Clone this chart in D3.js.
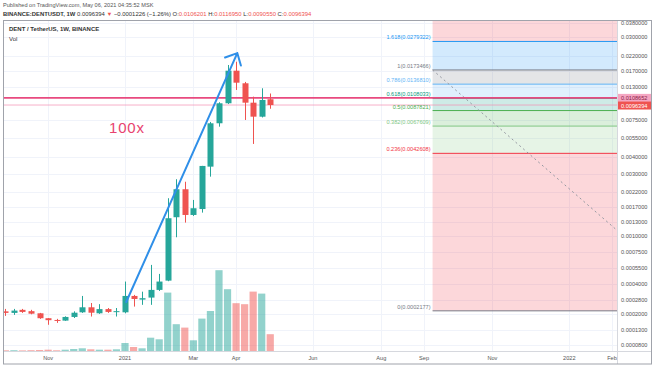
<!DOCTYPE html>
<html>
<head>
<meta charset="utf-8">
<script src="https://cdn.jsdelivr.net/npm/d3@7"></script>
<style>
  body { margin: 0; background: #fff; }
  svg { display: block; font-family: "Liberation Sans", Arial, sans-serif; }
</style>
</head>
<body>
<section id="chart"></section>
<script>
// weekly bars, DENT/USDT
var dates = ["2020-09-28","2020-10-05","2020-10-12","2020-10-19","2020-10-26","2020-11-02","2020-11-09","2020-11-16",
  "2020-11-23","2020-11-30","2020-12-07","2020-12-14","2020-12-21","2020-12-28","2021-01-04","2021-01-11",
  "2021-01-18","2021-01-25","2021-02-01","2021-02-08","2021-02-15","2021-02-22","2021-03-01","2021-03-08",
  "2021-03-15","2021-03-22","2021-03-29","2021-04-05","2021-04-12","2021-04-19","2021-04-26","2021-05-03"];
var open = [0.000215,0.000207,0.000223,0.000216,0.000205,0.000181,0.000173,0.000170,0.000187,0.000210,0.000237,0.000205,
  0.000227,0.000212,0.000210,0.000307,0.000283,0.000296,0.000350,0.000425,0.001407,0.002300,0.001465,0.001627,
  0.003395,0.00709,0.00993,0.01714,0.01388,0.010025,0.00792,0.0106201];
var high = [0.000228,0.000228,0.000228,0.000223,0.000207,0.000182,0.000178,0.000190,0.000215,0.000307,0.000262,0.000255,
  0.000233,0.000233,0.000417,0.000314,0.000337,0.000582,0.000487,0.001967,0.002735,0.00262,0.001909,0.00344,
  0.00725,0.0101,0.01885,0.0199,0.0142,0.01109,0.012765,0.011695];
var low = [0.000192,0.000197,0.000207,0.000200,0.000178,0.000152,0.000160,0.000169,0.000182,0.000207,0.000189,0.000202,
  0.000207,0.000189,0.000205,0.000241,0.000251,0.000251,0.000342,0.00042,0.00098,0.001278,0.00144,0.001527,
  0.002859,0.006693,0.0098,0.01241,0.007495,0.004998,0.00782,0.009055];
var close = [0.000207,0.000219,0.000212,0.000203,0.000181,0.000172,0.000169,0.000187,0.000208,0.000237,0.000208,0.000227,
  0.000212,0.000216,0.000307,0.000287,0.000292,0.000350,0.000417,0.001382,0.0023,0.001465,0.00165,0.003436,
  0.007088,0.009926,0.01714,0.01402,0.010025,0.007924,0.01049,0.0096394];
// volume, billions
var volume = [0.35,0.4,0.3,0.4,0.5,0.65,0.35,0.65,1.0,1.35,0.85,0.65,0.65,0.85,4.0,2.0,
  1.35,6.65,5.85,29.2,13.4,11.7,5.35,16.2,20,40.4,30.9,23.9,23.4,29.7,28.7,8.4];

var priceTicks = [0.038,0.03,0.022,0.017,0.013,0.0075,0.0055,0.004,0.003,0.0022,0.0017,0.0013,0.001,
  0.00075,0.00055,0.0004,0.00028,0.0002,0.00013,0.00008];
var timeTicks = ["2020-11-02","2021-01-04","2021-03-01","2021-04-05","2021-06-07","2021-08-02","2021-09-06",
  "2021-11-01","2022-01-03","2022-02-07"];
var timeLabels = ["Nov","2021","Mar","Apr","Jun","Aug","Sep","Nov","2022","Feb"];

// fib retracement drawn on the right
var fibRatios = [0, 0.236, 0.382, 0.5, 0.618, 0.786, 1, 1.618];
var fibPrices = [0.0002177, 0.0042608, 0.0067609, 0.0087821, 0.0108033, 0.0136810, 0.0173466, 0.0279322];
var fibColors = ["#787b86","#f23645","#81c784","#4caf50","#089981","#64b5f6","#787b86","#2196f3"];
var fibDates = ["2021-09-13", "2022-04-28"];

var markLine = 0.0108652;
var lastPrice = 0.0096394;
var arrowDates = ["2021-01-05", "2021-04-06"];
var arrowPrices = [0.000268, 0.0230];

var W = 654, H = 366;
var L = 4, R = 617, T = 21, B = 351;
var up = "#26a69a", down = "#ef5350";
var parse = d3.utcParse("%Y-%m-%d");

var x = d3.scaleUtc()
  .domain([parse("2021-01-04"), parse("2022-02-07")])
  .range([125, 612]);
var y = d3.scaleSymlog()
  .constant(0.0001)
  .domain([0.038, 0.00008])
  .range([23, 345]);
var yv = d3.scaleLinear()
  .domain([0, 50])
  .range([B, B - 100]);

var bars = dates.map(function(d, i) {
  return { date: parse(d), o: open[i], h: high[i], l: low[i], c: close[i], v: volume[i] };
});

var svg = d3.select("#chart").append("svg")
  .attr("width", W)
  .attr("height", H);

svg.append("defs").append("clipPath").attr("id", "plot")
  .append("rect").attr("x", L).attr("y", T).attr("width", R - L).attr("height", B - T);

// header
svg.append("text")
  .attr("x", 3).attr("y", 7)
  .attr("font-size", 5.6).attr("fill", "#555")
  .text("Published on TradingView.com, May 06, 2021 04:35:52 MSK");
var hdr = svg.append("text")
  .attr("x", 3).attr("y", 16)
  .attr("font-size", 5.9).attr("fill", "#333");
hdr.append("tspan").attr("font-weight", "bold").text("BINANCE:DENTUSDT, 1W ");
hdr.append("tspan").text("0.0096394 ");
hdr.append("tspan").attr("fill", down).text("▼ ");
hdr.append("tspan").text("−0.0001226 (−1.26%) ");
[["O:", "0.0106201"], ["H:", "0.0116950"], ["L:", "0.0090550"], ["C:", "0.0096394"]].forEach(function(p) {
  hdr.append("tspan").text(p[0]);
  hdr.append("tspan").attr("fill", down).text(p[1] + " ");
});

// grid
var grid = svg.append("g");
grid.selectAll(".gy").data(priceTicks).enter().append("line")
  .attr("x1", L).attr("x2", R)
  .attr("y1", function(d) { return Math.round(y(d)) + 0.5; })
  .attr("y2", function(d) { return Math.round(y(d)) + 0.5; })
  .attr("stroke", "#f0f3fa");
grid.selectAll(".gx").data(timeTicks).enter().append("line")
  .attr("x1", function(d) { return Math.round(x(parse(d))) + 0.5; })
  .attr("x2", function(d) { return Math.round(x(parse(d))) + 0.5; })
  .attr("y1", T).attr("y2", B)
  .attr("stroke", "#f0f3fa");

var plot = svg.append("g").attr("clip-path", "url(#plot)");

// fib zones
var fx0 = x(parse(fibDates[0]));
var zones = fibPrices.map(function(p, i) {
  return { top: i < fibPrices.length - 1 ? fibPrices[i + 1] : null, bottom: p, color: i < fibPrices.length - 1 ? fibColors[i + 1] : "#f23645" };
});
zones.forEach(function(z) {
  var yt = z.top == null ? T : y(z.top);
  plot.append("rect")
    .attr("x", fx0).attr("width", R - fx0)
    .attr("y", yt).attr("height", y(z.bottom) - yt)
    .attr("fill", z.color).attr("fill-opacity", 0.2);
});
plot.selectAll(".fibline").data(fibPrices).enter().append("line")
  .attr("x1", fx0).attr("x2", R)
  .attr("y1", function(d) { return y(d); })
  .attr("y2", function(d) { return y(d); })
  .attr("stroke", function(d, i) { return fibColors[i]; })
  .attr("stroke-width", 1);
plot.append("line")
  .attr("x1", fx0).attr("y1", y(fibPrices[6]))
  .attr("x2", x(parse(fibDates[1]))).attr("y2", y(fibPrices[0]))
  .attr("stroke", "#9598a1").attr("stroke-width", 1)
  .attr("stroke-dasharray", "2,3");
svg.selectAll(".fiblabel").data(fibPrices).enter().append("text")
  .attr("x", fx0 - 2)
  .attr("y", function(d) { return y(d) - 2; })
  .attr("text-anchor", "end")
  .attr("font-size", 5.6)
  .attr("fill", function(d, i) { return fibColors[i]; })
  .text(function(d, i) { return fibRatios[i] + "(" + d.toFixed(7) + ")"; });

// horizontal lines
plot.append("line")
  .attr("x1", 0).attr("x2", R)
  .attr("y1", y(markLine)).attr("y2", y(markLine))
  .attr("stroke", "#e84a7f").attr("stroke-width", 1.6);
plot.append("line")
  .attr("x1", L).attr("x2", R)
  .attr("y1", y(lastPrice)).attr("y2", y(lastPrice))
  .attr("stroke", "#f48fb1").attr("stroke-width", 1).attr("stroke-opacity", 0.7);

// volume
plot.selectAll(".vol").data(bars).enter().append("rect")
  .attr("x", function(d) { return x(d.date) - 3.6; })
  .attr("width", 7.2)
  .attr("y", function(d) { return yv(d.v); })
  .attr("height", function(d) { return B - yv(d.v); })
  .attr("fill", function(d) { return d.c >= d.o ? up : down; })
  .attr("fill-opacity", 0.5);

// candles
var candle = plot.selectAll(".candle").data(bars).enter().append("g");
candle.append("line")
  .attr("x1", function(d) { return Math.round(x(d.date)) + 0.5; })
  .attr("x2", function(d) { return Math.round(x(d.date)) + 0.5; })
  .attr("y1", function(d) { return y(d.h); })
  .attr("y2", function(d) { return y(d.l); })
  .attr("stroke", function(d) { return d.c >= d.o ? up : down; });
candle.append("rect")
  .attr("x", function(d) { return Math.round(x(d.date)) - 2.5; })
  .attr("width", 6)
  .attr("y", function(d) { return y(Math.max(d.o, d.c)); })
  .attr("height", function(d) { return Math.max(1, Math.abs(y(d.o) - y(d.c))); })
  .attr("fill", function(d) { return d.c >= d.o ? up : down; });

// arrow
var a0 = [x(parse(arrowDates[0])), y(arrowPrices[0])];
var a1 = [x(parse(arrowDates[1])), y(arrowPrices[1])];
var ang = Math.atan2(a0[1] - a1[1], a0[0] - a1[0]);
var wing = function(s) {
  return [a1[0] + 13 * Math.cos(ang + s), a1[1] + 13 * Math.sin(ang + s)];
};
plot.append("path")
  .attr("d", d3.line()([a0, a1]) + "M" + wing(0.8) + "L" + a1 + "L" + wing(-0.7))
  .attr("fill", "none")
  .attr("stroke", "#2f8fe8").attr("stroke-width", 2)
  .attr("stroke-linecap", "round").attr("stroke-linejoin", "round");

svg.append("text")
  .attr("x", 109).attr("y", 133)
  .attr("font-size", 15).attr("letter-spacing", 0.8)
  .attr("fill", "#e8436f")
  .text("100x");

// legend inside
svg.append("text").attr("x", 9).attr("y", 31)
  .attr("font-size", 6).attr("fill", "#333").attr("font-weight", "bold")
  .text("DENT / TetherUS, 1W, BINANCE");
svg.append("text").attr("x", 9).attr("y", 41)
  .attr("font-size", 6).attr("fill", "#333")
  .text("Vol");

// price axis
svg.selectAll(".py").data(priceTicks).enter().append("text")
  .attr("x", 621)
  .attr("y", function(d) { return y(d) + 2; })
  .attr("font-size", 5.6)
  .attr("fill", "#555")
  .text(function(d) { return d.toFixed(7); });

svg.append("rect").attr("x", R + 1).attr("y", y(markLine) - 4).attr("width", 33).attr("height", 8)
  .attr("fill", "#f5a6c2");
svg.append("text").attr("x", 621).attr("y", y(markLine) + 2)
  .attr("font-size", 5.6).attr("fill", "#8a1c46").text(markLine.toFixed(7));
svg.append("rect").attr("x", R + 1).attr("y", y(lastPrice) - 3.5).attr("width", 33).attr("height", 8)
  .attr("fill", down);
svg.append("text").attr("x", 621).attr("y", y(lastPrice) + 2.5)
  .attr("font-size", 5.6).attr("fill", "#fff").text(lastPrice.toFixed(7));

// time axis
svg.selectAll(".tx").data(timeTicks).enter().append("text")
  .attr("x", function(d) { return x(parse(d)); })
  .attr("y", 360)
  .attr("text-anchor", "middle")
  .attr("font-size", 5.6)
  .attr("fill", "#555")
  .text(function(d, i) { return timeLabels[i]; });

// frame
svg.append("line").attr("x1", R + 0.5).attr("x2", R + 0.5).attr("y1", T).attr("y2", 364)
  .attr("stroke", "#d6d8de");
svg.append("line").attr("x1", L).attr("x2", 651).attr("y1", B + 0.5).attr("y2", B + 0.5)
  .attr("stroke", "#d6d8de");
svg.append("rect").attr("x", 3.5).attr("y", 20.5).attr("width", 648).attr("height", 343.5)
  .attr("fill", "none").attr("stroke", "#a0a3ab");
</script>
</body>
</html>
